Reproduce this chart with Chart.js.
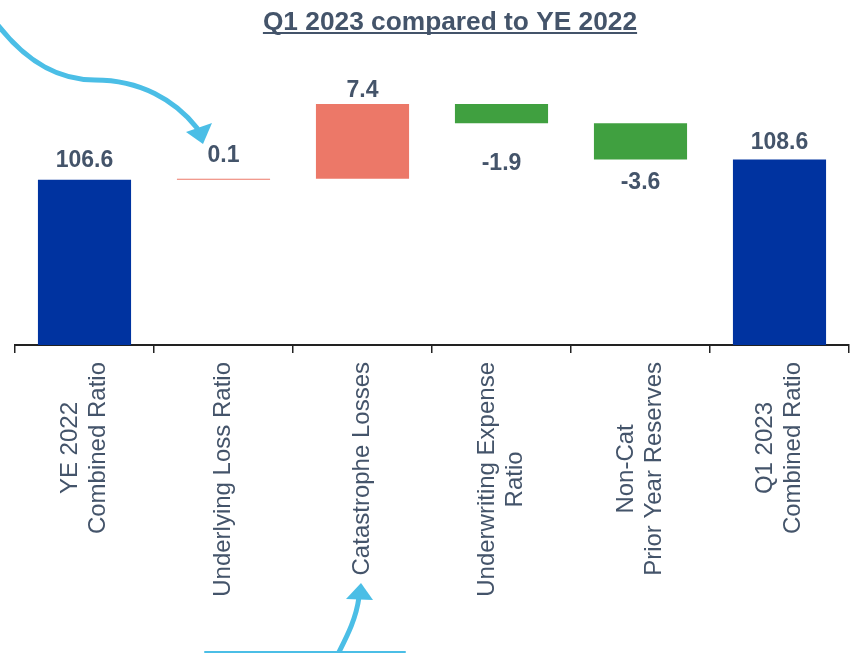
<!DOCTYPE html>
<html>
<head>
<meta charset="utf-8">
<title>Combined Ratio Walk</title>
<script src="https://cdn.jsdelivr.net/npm/chart.js@4/dist/chart.umd.min.js"></script>
<style>
  html, body { margin: 0; padding: 0; background: #fff; }
  #wrap { width: 856px; height: 653px; }
</style>
</head>
<body>
<div id="wrap"><canvas id="walkChart" width="856" height="653"></canvas></div>
<script>
// combined ratio walk, Q1 2023 vs YE 2022
const categories = [
  ["YE 2022", "Combined Ratio"],
  ["Underlying Loss Ratio"],
  ["Catastrophe Losses"],
  ["Underwriting Expense", "Ratio"],
  ["Non-Cat", "Prior Year Reserves"],
  ["Q1 2023", "Combined Ratio"]
];
const steps = [106.6, 0.1, 7.4, -1.9, -3.6, 108.6];
const stepKinds = ["total", "delta", "delta", "delta", "delta", "total"];
const axisMin = 90.2;
const axisMax = 115;

const BLUE = "#0033A0";
const SALMON = "#EC7868";
const GREEN = "#40A040";
const SLATE = "#44546A";
const ARROW = "#4BBEE6";

// build floating [from, to] ranges
let running = 0;
const ranges = steps.map((v, i) => {
  if (stepKinds[i] === "total") {
    running = v;
    return [0, v];
  }
  const from = running;
  running = Math.round((running + v) * 10) / 10;
  return [from, running];
});
const barColors = steps.map((v, i) =>
  stepKinds[i] === "total" ? BLUE : (v >= 0 ? SALMON : GREEN));

// gap between bar end and its value label
const labelGap = [13, 17, 7, 30, 13, 11];

const walkDecor = {
  id: "walkDecor",
  afterDraw(chart) {
    const ctx = chart.ctx;
    const x = chart.scales.x;
    const y = chart.scales.y;
    const meta = chart.getDatasetMeta(0);

    // value labels
    ctx.save();
    ctx.fillStyle = SLATE;
    ctx.font = "bold 23px 'Liberation Sans', Arial, sans-serif";
    ctx.textAlign = "center";
    ctx.textBaseline = "alphabetic";
    meta.data.forEach((bar, i) => {
      const r = ranges[i];
      const top = y.getPixelForValue(Math.max(r[0], r[1]));
      const bottom = y.getPixelForValue(Math.min(r[0], r[1]));
      const txt = steps[i].toFixed(1);
      if (steps[i] >= 0) {
        ctx.fillText(txt, bar.x, top - labelGap[i]);
      } else {
        ctx.fillText(txt, bar.x, bottom + labelGap[i] + 16.5);
      }
    });
    ctx.restore();

    // rotated category labels, lines centred on each other
    ctx.save();
    ctx.fillStyle = SLATE;
    ctx.font = "24px 'Liberation Sans', Arial, sans-serif";
    ctx.textBaseline = "middle";
    ctx.textAlign = "center";
    const lineH = 28;
    const startY = chart.chartArea.bottom + 17;
    categories.forEach((lines, i) => {
      const cx = x.getPixelForValue(i);
      const w = Math.max(...lines.map(l => ctx.measureText(l).width));
      ctx.save();
      ctx.translate(cx, startY);
      ctx.rotate(-Math.PI / 2);
      lines.forEach((l, j) => {
        ctx.fillText(l, -w / 2, (j - (lines.length - 1) / 2) * lineH);
      });
      ctx.restore();
    });
    ctx.restore();

    // title
    ctx.save();
    ctx.fillStyle = SLATE;
    ctx.strokeStyle = SLATE;
    ctx.font = "bold 26.3px 'Liberation Sans', Arial, sans-serif";
    ctx.textAlign = "center";
    ctx.textBaseline = "alphabetic";
    const title = "Q1 2023 compared to YE 2022";
    const tw = ctx.measureText(title).width;
    ctx.fillText(title, 450, 30);
    ctx.lineWidth = 2;
    ctx.beginPath();
    ctx.moveTo(450 - tw / 2, 33);
    ctx.lineTo(450 + tw / 2, 33);
    ctx.stroke();
    ctx.restore();

    // callout arrows
    ctx.save();
    ctx.strokeStyle = ARROW;
    ctx.fillStyle = ARROW;
    ctx.lineWidth = 5;
    ctx.lineCap = "round";
    ctx.beginPath();
    ctx.moveTo(-3, 24);
    ctx.bezierCurveTo(28, 64, 60, 80, 95, 80);
    ctx.bezierCurveTo(140, 80, 175, 100, 197, 128);
    ctx.stroke();
    ctx.beginPath();
    ctx.moveTo(186, 132);
    ctx.lineTo(212, 123);
    ctx.lineTo(203, 144);
    ctx.closePath();
    ctx.fill();

    ctx.beginPath();
    ctx.moveTo(337, 656);
    ctx.bezierCurveTo(346, 638, 356, 620, 359, 597);
    ctx.stroke();
    ctx.beginPath();
    ctx.moveTo(346, 599);
    ctx.lineTo(373, 600);
    ctx.lineTo(361, 583);
    ctx.closePath();
    ctx.fill();

    ctx.lineWidth = 2;
    ctx.beginPath();
    ctx.moveTo(205, 652);
    ctx.lineTo(405, 652);
    ctx.stroke();
    ctx.restore();
  }
};

new Chart(document.getElementById("walkChart"), {
  type: "bar",
  data: {
    labels: categories,
    datasets: [{
      data: ranges,
      backgroundColor: barColors,
      borderWidth: 0,
      borderSkipped: false,
      barPercentage: 0.67,
      categoryPercentage: 1
    }]
  },
  options: {
    responsive: false,
    animation: false,
    layout: { padding: { left: 15, right: 7, top: 95, bottom: 300 } },
    plugins: {
      legend: { display: false },
      tooltip: { enabled: false }
    },
    scales: {
      x: {
        grid: {
          offset: true,
          drawOnChartArea: false,
          drawTicks: true,
          tickLength: 8,
          color: "#222",
          lineWidth: 1.5
        },
        border: { display: true, color: "#222", width: 2 },
        ticks: { display: false }
      },
      y: {
        display: false,
        min: axisMin,
        max: axisMax
      }
    }
  },
  plugins: [walkDecor]
});
</script>
</body>
</html>
